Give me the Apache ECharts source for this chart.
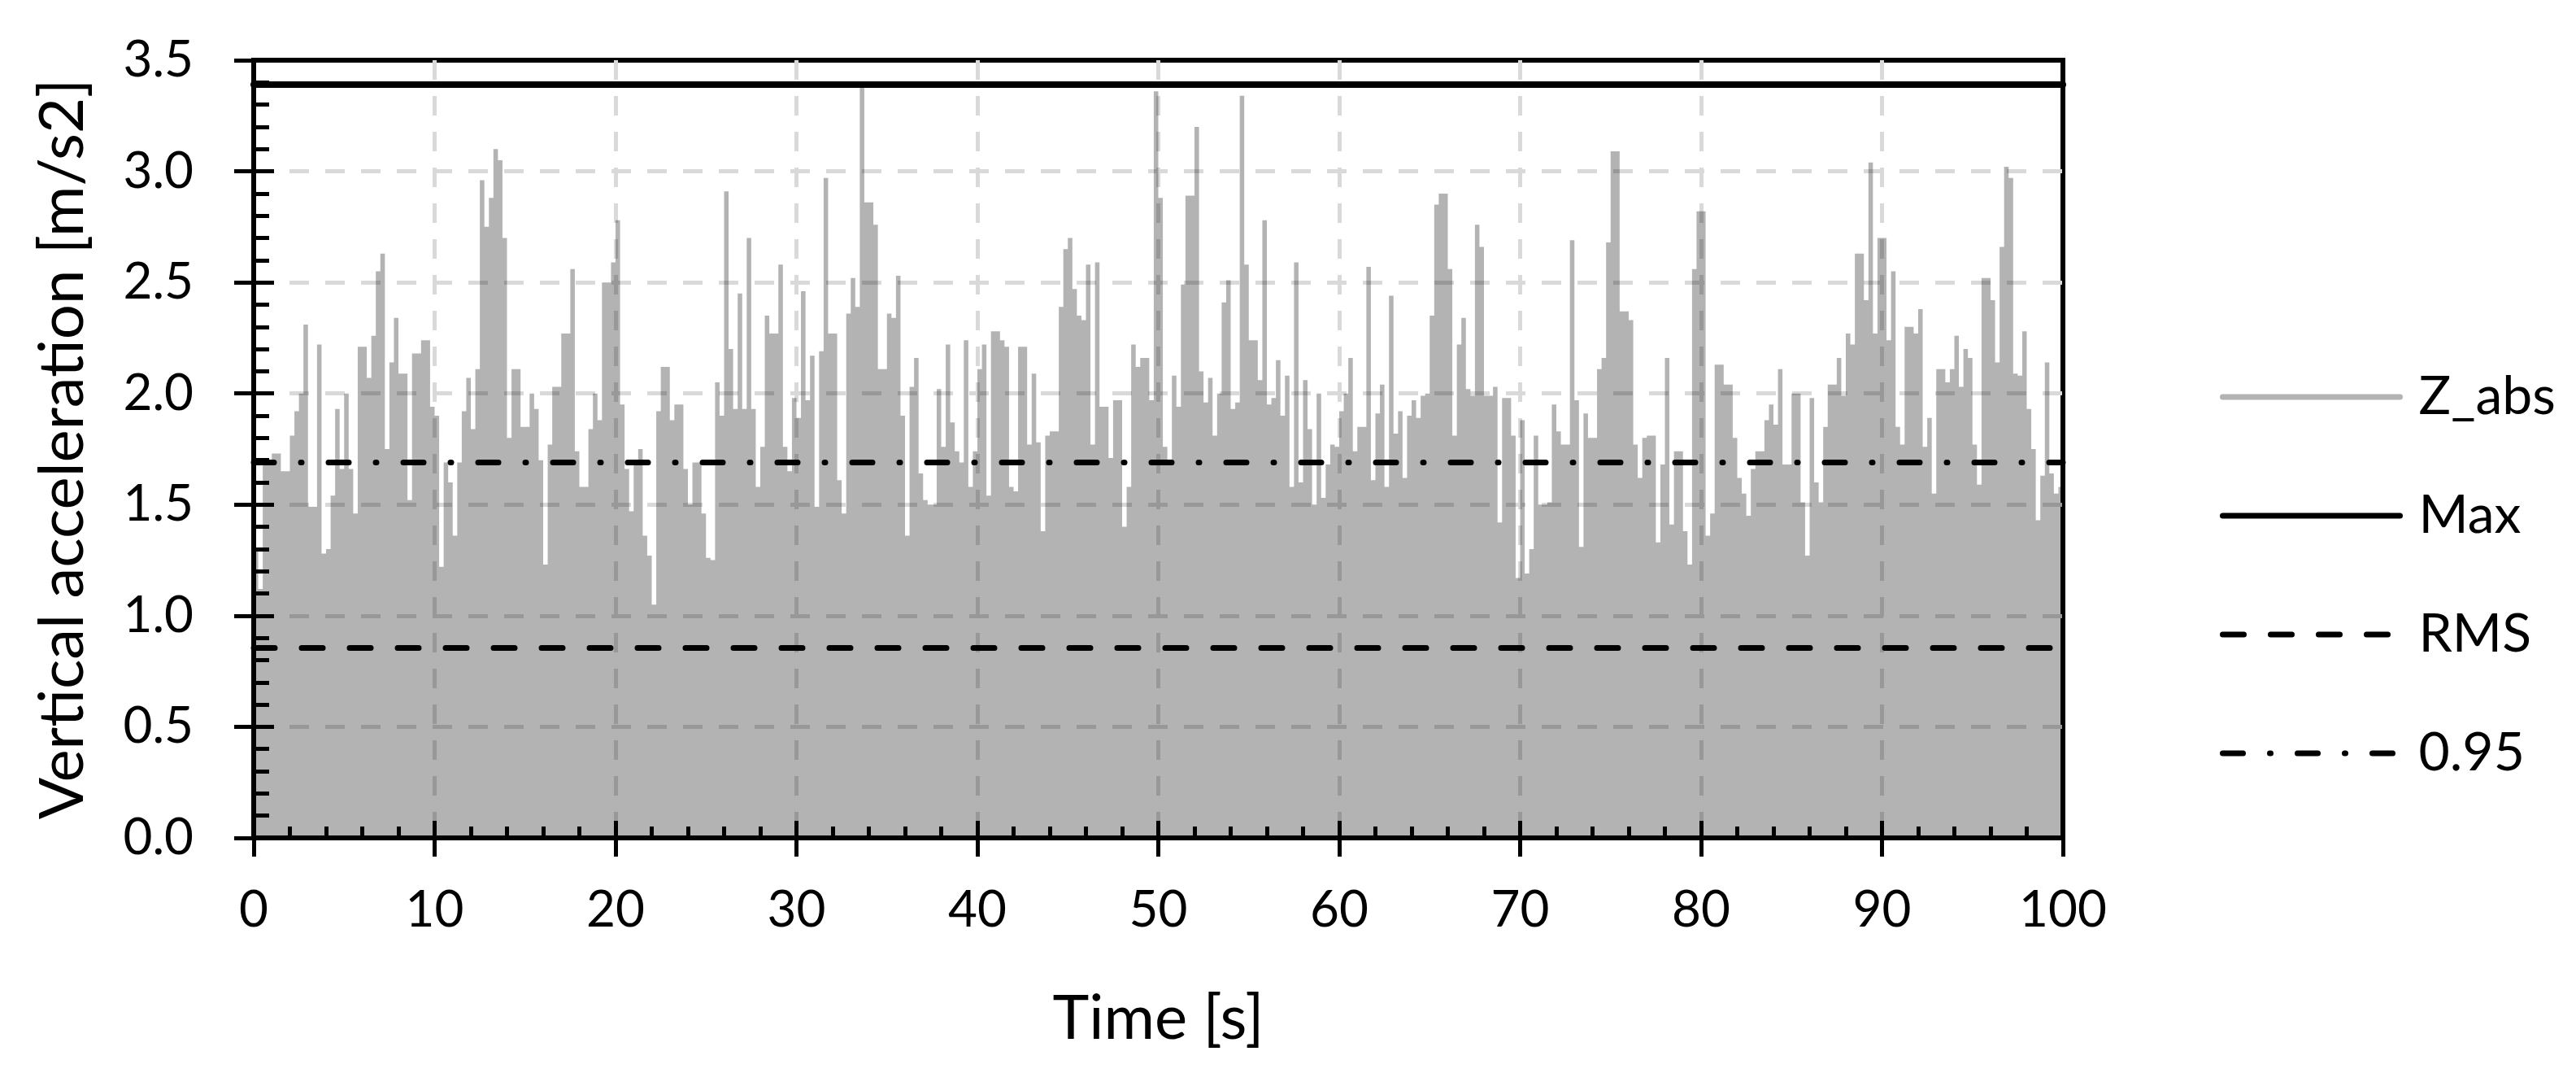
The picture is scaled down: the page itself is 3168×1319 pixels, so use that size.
<!DOCTYPE html>
<html><head><meta charset="utf-8">
<script src="https://cdn.jsdelivr.net/npm/echarts@6/dist/echarts.min.js"></script>
<style>html,body{margin:0;padding:0;background:#fff}#c{width:3168px;height:1319px}</style>
</head><body><div id="c"></div>
<script>
// sample spacing of the read-off envelope (seconds)
const sampleStep = 0.25;
// Z_abs peak values per 0.25 s bin (m/s2)
const zAbsPeaks = [
1.30,1.12,1.68,1.68,1.73,1.73,1.65,1.65,1.81,1.92,
2.00,2.31,1.49,1.49,2.22,1.28,1.30,1.54,1.93,1.66,
2.00,1.66,1.46,2.21,2.21,2.07,2.26,2.55,2.63,1.75,
2.14,2.34,2.09,2.09,1.52,2.18,2.18,2.24,2.24,1.94,
1.90,1.22,1.69,1.60,1.36,1.69,1.92,2.07,1.84,2.11,
2.96,2.75,2.88,3.10,3.05,2.70,1.80,2.11,2.11,1.85,
1.85,2.00,1.93,1.70,1.23,1.77,2.03,2.03,2.27,2.27,
2.56,1.74,1.58,1.58,1.84,2.00,1.88,2.50,2.50,2.59,
2.78,1.95,1.66,1.47,1.69,1.75,1.36,1.27,1.05,1.92,
2.12,2.12,1.88,1.95,1.95,1.66,1.50,1.69,1.69,1.46,
1.26,1.25,2.05,1.90,2.91,2.20,1.93,2.45,1.93,2.70,
1.93,1.58,1.76,2.35,2.27,2.27,2.58,1.76,1.65,1.98,
1.89,2.46,1.97,2.17,1.49,2.19,2.97,2.27,2.27,1.61,
1.46,2.36,2.52,2.39,3.38,2.86,2.86,2.76,2.11,2.11,
2.36,2.34,2.53,1.90,1.36,2.03,2.16,1.64,1.52,1.50,
1.50,2.02,1.76,2.22,1.87,1.74,1.69,2.24,1.58,1.74,
2.11,2.22,1.54,2.28,2.28,2.24,2.21,1.58,1.56,2.21,
2.21,1.77,2.09,1.78,1.38,1.81,1.83,1.83,2.39,2.65,
2.70,2.47,2.35,2.33,2.58,1.77,2.59,1.94,1.94,1.71,
1.97,1.97,1.40,1.58,2.22,2.12,2.16,2.16,1.97,3.36,
2.88,1.76,1.70,2.08,1.94,2.49,2.89,2.89,3.20,2.10,
1.96,2.07,1.81,2.00,2.41,2.51,1.93,1.96,3.34,2.58,
2.24,2.24,2.06,2.78,1.95,1.98,2.15,1.90,2.08,1.58,
2.59,1.60,2.06,1.84,1.50,2.00,1.53,1.68,1.77,1.76,
1.92,2.00,2.16,1.74,1.85,1.85,2.57,1.61,1.91,2.04,
1.58,2.44,1.82,1.92,1.62,1.90,1.97,1.89,1.99,2.00,
2.35,2.85,2.90,2.90,2.56,1.81,2.22,2.34,2.02,1.99,
2.76,2.66,1.99,1.99,2.03,1.42,1.98,1.98,1.81,1.17,
1.88,1.19,1.30,1.81,1.50,1.50,1.51,1.95,1.83,1.77,
1.77,2.69,1.97,1.31,1.91,1.80,1.80,2.11,2.16,2.68,
3.09,3.09,2.37,2.37,2.33,1.77,1.62,1.80,1.81,1.81,
1.33,1.68,2.16,1.41,1.74,1.74,1.38,1.23,2.56,2.82,
2.82,1.36,1.46,2.13,2.13,2.04,2.04,1.80,1.62,1.55,
1.45,1.66,1.74,1.74,1.88,1.95,1.86,2.11,1.68,1.68,
2.00,2.00,1.51,1.27,1.98,1.60,1.51,1.85,2.04,2.04,
2.16,1.99,2.27,2.22,2.63,2.63,2.42,3.04,2.27,2.70,
2.70,2.24,2.55,1.85,1.77,2.30,2.30,2.27,2.38,1.76,
1.89,1.55,2.11,2.11,2.05,2.11,2.26,2.03,2.20,2.16,
1.77,1.59,2.52,2.52,2.42,2.14,2.66,3.02,2.97,2.09,
2.08,2.28,1.93,1.75,1.43,1.63,2.14,1.64,1.55,1.58
];
const maxValue = 3.39;
const rmsValue = 0.855;
const p95Value = 1.69;
const timeRange = [0, 100];
const seriesNames = ['Z_abs', 'Max', 'RMS', '0.95'];

const zData = zAbsPeaks.map((v, i) => [i * sampleStep, v]);
zData.push([zAbsPeaks.length * sampleStep, zAbsPeaks[zAbsPeaks.length - 1]]);
const hLine = v => [[timeRange[0], v], [timeRange[1], v]];

const FONT = 'Lato';
const chart = echarts.init(document.getElementById('c'));
chart.setOption({
  animation: false,
  backgroundColor: '#fff',
  textStyle: { fontFamily: FONT, color: '#000' },
  grid: { left: 312, top: 74, width: 2225, height: 956, show: true, borderColor: '#000', borderWidth: 6, backgroundColor: 'transparent' },
  xAxis: [{
    type: 'value', min: 0, max: 100, interval: 10,
    axisLine: { lineStyle: { color: '#000', width: 6 } },
    axisTick: { inside: true, length: 21, lineStyle: { color: '#000', width: 5 } },
    minorTick: { show: true, splitNumber: 5, length: 14, lineStyle: { color: '#000', width: 5 } },
    splitLine: { show: true, showMinLine: false, showMaxLine: false, lineStyle: { color: '#d9d9d9', width: 5, type: [24, 20] } },
    axisLabel: { color: '#000', fontSize: 62, margin: 58, fontFamily: FONT },
    name: 'Time [s]', nameLocation: 'middle', nameGap: 184,
    nameTextStyle: { fontSize: 76, color: '#000', fontFamily: FONT }
  }, {
    type: 'value', min: 0, max: 100, interval: 10, position: 'bottom',
    axisLine: { show: false },
    axisTick: { show: true, inside: false, length: 23, lineStyle: { color: '#000', width: 5 } },
    axisLabel: { show: false }, splitLine: { show: false }
  }],
  yAxis: [{
    type: 'value', min: 0, max: 3.5, interval: 0.5,
    axisLine: { show: true, lineStyle: { color: '#000', width: 6 } },
    axisTick: { show: true, inside: true, length: 25, lineStyle: { color: '#000', width: 5 } },
    minorTick: { show: true, splitNumber: 5, length: 19, lineStyle: { color: '#000', width: 5 } },
    splitLine: { show: true, showMinLine: false, showMaxLine: false, lineStyle: { color: '#d9d9d9', width: 5, type: [24, 20] } },
    axisLabel: { color: '#000', fontSize: 62, margin: 74, fontFamily: FONT, formatter: v => v.toFixed(1) },
    name: 'Vertical acceleration [m/s2]', nameLocation: 'middle', nameGap: 197,
    nameTextStyle: { fontSize: 76, color: '#000', fontFamily: FONT }
  }, {
    type: 'value', min: 0, max: 3.5, interval: 0.5, position: 'left',
    axisLine: { show: false },
    axisTick: { show: true, inside: false, length: 24, lineStyle: { color: '#000', width: 5 } },
    axisLabel: { show: false }, splitLine: { show: false }
  }],
  legend: {
    orient: 'vertical', left: 2725, top: 450,
    itemWidth: 218, itemHeight: 10, itemGap: 80,
    selectedMode: false,
    itemStyle: { opacity: 0, borderWidth: 0 },
    lineStyle: { width: 7, cap: 'round' },
    textStyle: { fontSize: 66, color: '#000', fontFamily: FONT, lineHeight: 60, padding: [0, 0, 0, 18] },
    data: [
      { name: seriesNames[0], lineStyle: { color: '#b3b3b3', width: 7, opacity: 1, cap: 'round' } },
      seriesNames[1], seriesNames[2], seriesNames[3]
    ]
  },
  series: [
    { name: seriesNames[0], type: 'line', data: zData, step: 'end', symbol: 'none', color: '#b3b3b3',
      lineStyle: { width: 0, color: '#b3b3b3' },
      areaStyle: { color: 'rgba(0,0,0,0.298)', opacity: 1 }, silent: true, z: 2 },
    { name: seriesNames[1], type: 'line', data: hLine(maxValue), symbol: 'none', color: '#000',
      lineStyle: { color: '#000', width: 8, cap: 'round' }, z: 3 },
    { name: seriesNames[2], type: 'line', data: hLine(rmsValue), symbol: 'none', color: '#000',
      lineStyle: { color: '#000', width: 7, type: [26, 33], cap: 'round' }, z: 3 },
    { name: seriesNames[3], type: 'line', data: hLine(p95Value), symbol: 'none', color: '#000',
      lineStyle: { color: '#000', width: 7, type: [25, 33, 1, 33], cap: 'round' }, z: 3 }
  ]
});
</script></body></html>
